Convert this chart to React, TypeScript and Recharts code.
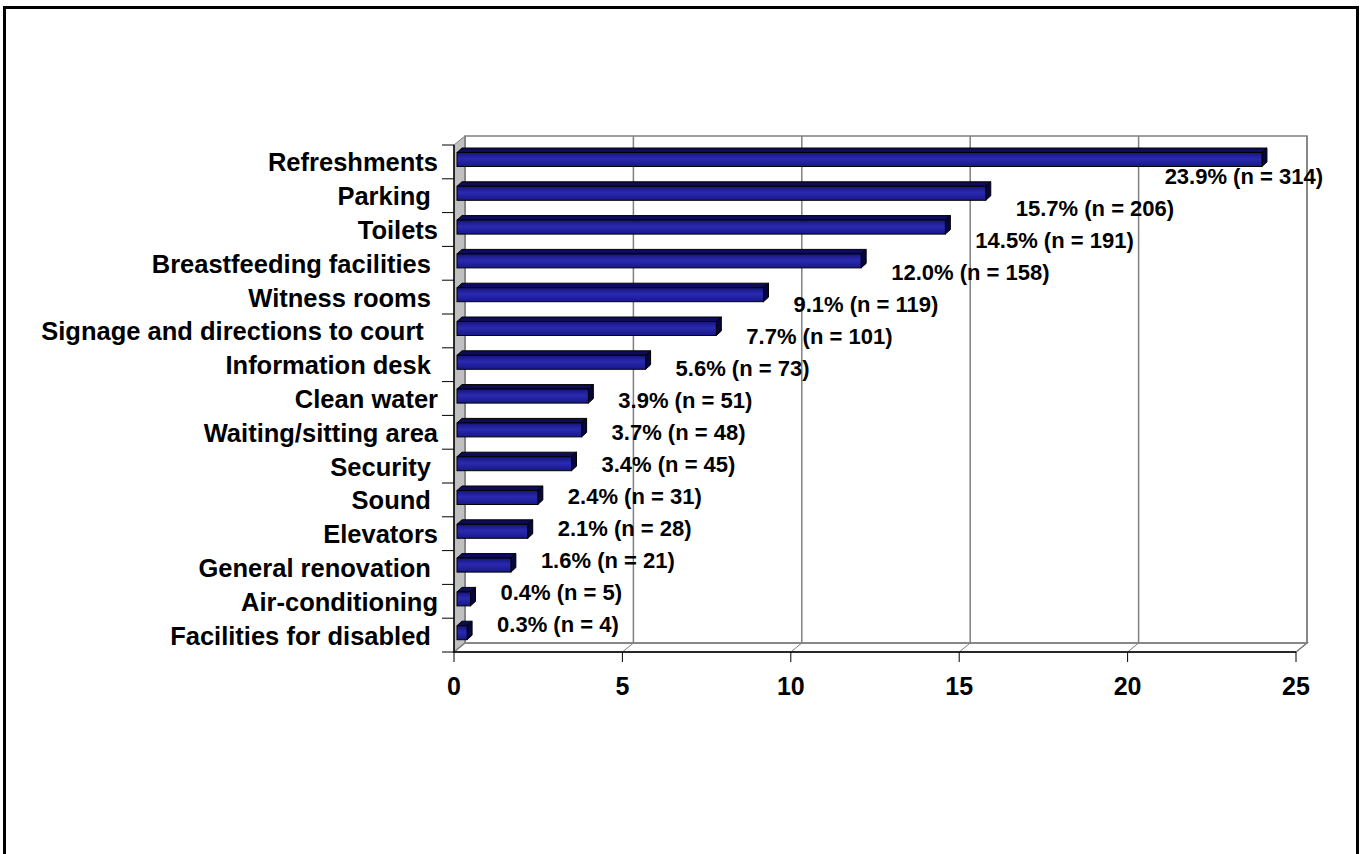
import { Bar, BarChart, CartesianGrid, LabelList, ReferenceArea, XAxis, YAxis } from "recharts";

// categories (trailing spaces kept as in the original labels)
const categories = [
  "Refreshments",
  "Parking ",
  "Toilets",
  "Breastfeeding facilities ",
  "Witness rooms ",
  "Signage and directions to court  ",
  "Information desk ",
  "Clean water",
  "Waiting/sitting area",
  "Security ",
  "Sound ",
  "Elevators",
  "General renovation ",
  "Air-conditioning",
  "Facilities for disabled ",
];
const percents = [23.9, 15.7, 14.5, 12.0, 9.1, 7.7, 5.6, 3.9, 3.7, 3.4, 2.4, 2.1, 1.6, 0.4, 0.3];
const counts = [314, 206, 191, 158, 119, 101, 73, 51, 48, 45, 31, 28, 21, 5, 4];
const xTicks = [0, 5, 10, 15, 20, 25];

const rows = categories.map((name, i) => ({ name, value: percents[i], n: counts[i] }));

const W = 1360;
const H = 854;
const MARGIN = { top: 145, right: 64, bottom: 162, left: 0 };
const FONT = "'Liberation Sans', Arial, sans-serif";

// 3d depth of the walls and of the bars
const DX = 11;
const DY = 9;
const BDX = 5;
const BDY = 4.5;

function WallBox(props: any) {
  const { x, y, width: w, height: h } = props;
  const n = categories.length;
  const step = h / n;
  return (
    <g>
      <polygon
        points={`${x},${y} ${x + DX},${y - DY} ${x + DX},${y + h - DY} ${x},${y + h}`}
        fill="#c0c0c0"
        stroke="#808080"
        strokeWidth={1}
      />
      <polygon
        points={`${x},${y + h} ${x + DX},${y + h - DY} ${x + w + DX},${y + h - DY} ${x + w},${y + h}`}
        fill="none"
        stroke="#808080"
        strokeWidth={1.5}
      />
      <rect x={x + DX} y={y - DY} width={w} height={h} fill="none" stroke="#808080" strokeWidth={1.5} />
      {Array.from({ length: n + 1 }).map((_, i) => (
        <line key={i} x1={x - 12} x2={x} y1={y + i * step} y2={y + i * step} stroke="#000" strokeWidth={1} />
      ))}
      <line x1={x} y1={y} x2={x} y2={y + h} stroke="#000" strokeWidth={1.5} />
    </g>
  );
}

const gridLine = (p: any) => (
  <g key={p.key}>
    <line x1={p.x1 + DX} y1={p.y1 - DY} x2={p.x2 + DX} y2={p.y2 - DY} stroke="#808080" strokeWidth={1.5} />
    <line x1={p.x2} y1={p.y2} x2={p.x2 + DX} y2={p.y2 - DY} stroke="#808080" strokeWidth={1} />
  </g>
);

function Bar3D(props: any) {
  const { x, y, width, height } = props;
  if (!width) return null;
  const fx = x + 3;
  const fy = y - 2.5;
  const r = fx + width;
  const b = fy + height;
  return (
    <g>
      <polygon
        points={`${fx},${fy} ${fx + BDX},${fy - BDY} ${r + BDX},${fy - BDY} ${r},${fy}`}
        fill="#0c0c58"
        stroke="#000"
        strokeWidth={1}
      />
      <polygon
        points={`${r},${fy} ${r + BDX},${fy - BDY} ${r + BDX},${b - BDY} ${r},${b}`}
        fill="#06063e"
        stroke="#000"
        strokeWidth={1}
      />
      <rect x={fx} y={fy} width={width} height={height} fill="url(#barFront)" stroke="#000" strokeWidth={1} />
    </g>
  );
}

function BarLabel(props: any) {
  const { x, y, width, height, index } = props;
  const text = `${percents[index].toFixed(1)}% (n = ${counts[index]})`;
  const cy = y + height / 2 + 14 - 1.8 * index;
  const right = W - MARGIN.right + 27;
  let lx = x + width + 33;
  let anchor: "start" | "end" = "start";
  if (lx + text.length * 10.6 > right) {
    lx = right;
    anchor = "end";
  }
  return (
    <text x={lx} y={cy} dy="0.35em" textAnchor={anchor} fontFamily={FONT} fontWeight="bold" fontSize={22} fill="#000">
      {text}
    </text>
  );
}

function CategoryTick(props: any) {
  const { x, y, payload } = props;
  return (
    <text
      x={x}
      y={y}
      dy="0.37em"
      textAnchor="end"
      fontFamily={FONT}
      fontWeight="bold"
      fontSize={25.5}
      fill="#000"
      style={{ whiteSpace: "pre" }}
    >
      {payload.value}
    </text>
  );
}

export default function App() {
  return (
    <div style={{ position: "absolute", left: 0, top: 0, width: W, height: H, overflow: "hidden", background: "#fff" }}>
      <div
        style={{
          position: "absolute",
          left: 3,
          top: 6,
          width: 1356,
          height: 900,
          border: "3px solid #000",
          boxSizing: "border-box",
        }}
      />
      <div style={{ position: "absolute", left: 0, top: 0 }}>
        <svg width={0} height={0} style={{ position: "absolute" }}>
          <defs>
            <linearGradient id="barFront" x1="0" y1="0" x2="0" y2="1">
              <stop offset="0" stopColor="#15157a" />
              <stop offset="0.45" stopColor="#2a2ab0" />
              <stop offset="1" stopColor="#17178a" />
            </linearGradient>
          </defs>
        </svg>
        <BarChart width={W} height={H} data={rows} layout="vertical" margin={MARGIN} barSize={14}>
          <CartesianGrid horizontal={false} vertical={gridLine} />
          <ReferenceArea x1={0} x2={25} shape={WallBox} ifOverflow="visible" />
          <XAxis
            type="number"
            domain={[0, 25]}
            ticks={xTicks}
            interval={0}
            height={40}
            tickSize={10}
            tickMargin={15}
            axisLine={{ stroke: "#000", strokeWidth: 1.5 }}
            tickLine={{ stroke: "#000" }}
            tick={{ fill: "#000", fontSize: 25, fontWeight: "bold", fontFamily: FONT }}
          />
          <YAxis
            type="category"
            dataKey="name"
            width={454}
            axisLine={false}
            tickLine={false}
            tickSize={0}
            tickMargin={16}
            interval={0}
            tick={<CategoryTick />}
          />
          <Bar dataKey="value" shape={<Bar3D />} isAnimationActive={false}>
            <LabelList dataKey="value" content={<BarLabel />} />
          </Bar>
        </BarChart>
      </div>
    </div>
  );
}
